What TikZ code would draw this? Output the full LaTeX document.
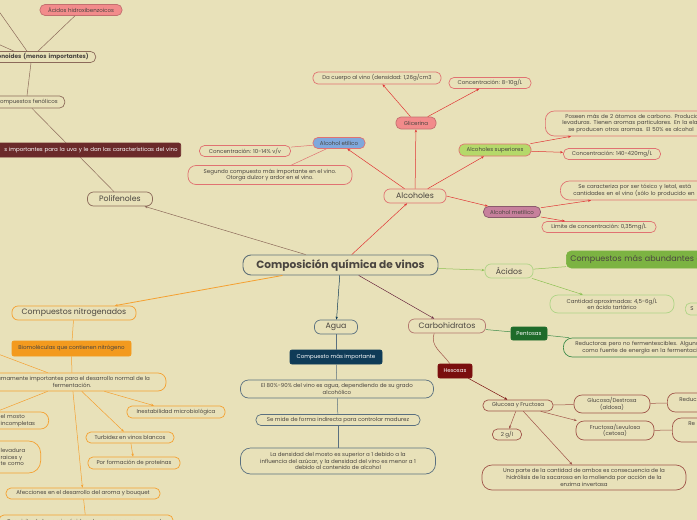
\documentclass[tikz,border=0pt]{standalone}
\usepackage{fontspec}
\setmainfont{Poppins}
\usetikzlibrary{arrows.meta}

\definecolor{fondo}{HTML}{E8E1B9}
\definecolor{tinta}{HTML}{4A4540}
\definecolor{central}{HTML}{5F7078}
\definecolor{rojo}{HTML}{E03535}
\definecolor{rosa}{HTML}{E07272}
\definecolor{rosafill}{HTML}{F28B8B}
\definecolor{azul}{HTML}{7FA8DC}
\definecolor{verdeclaro}{HTML}{B5D96A}
\definecolor{malva}{HTML}{C7809C}
\definecolor{cafe}{HTML}{8C6A5A}
\definecolor{vino}{HTML}{6B2A2A}
\definecolor{verde}{HTML}{8CC152}
\definecolor{verdefill}{HTML}{7CB342}
\definecolor{marino}{HTML}{0F3B57}
\definecolor{gris}{HTML}{5A7080}
\definecolor{granate}{HTML}{6B2A40}
\definecolor{pino}{HTML}{1E6B2A}
\definecolor{pinoline}{HTML}{3D8B4A}
\definecolor{hexo}{HTML}{7A0E0E}
\definecolor{ladrillo}{HTML}{A0554A}
\definecolor{naranja}{HTML}{F5A030}
\definecolor{naranjafill}{HTML}{F39A1E}

\tikzset{
    caja/.style={draw, rounded corners=5pt, inner sep=1pt, align=center, line width=0.7pt,
        text=tinta, font=\fontsize{5.5}{6.8}\selectfont},
    tema/.style={caja, rounded corners=6pt, font=\fontsize{7.8}{9}\selectfont},
    rosacaja/.style={caja, draw=rosa},
    relleno/.style={caja, draw=#1!80!black, fill=#1},
    oscuro/.style={caja, draw=#1, fill=#1, text=white, rounded corners=2pt},
    corte/.style={caja, anchor=west, align=left, text width=#1},
    flecha/.style={-{Stealth[length=3pt,width=2.4pt]}, line width=0.5pt},
    linea/.style={line width=0.5pt}
}

\begin{document}
\begin{tikzpicture}[x=1pt, y=-1pt]
    \useasboundingbox (0,0) rectangle (697,520);
    \clip (0,0) rectangle (697,520);
    \fill[fondo] (0,0) rectangle (697,520);

    \path node[caja, draw=central, line width=0.9pt, rounded corners=8pt, minimum width=195, minimum height=20,
            font=\fontsize{10.6}{12}\selectfont\bfseries] (vinos) at (340.5,265) {Composición química de vinos}
        % alcoholes
        node[tema, draw=rosa, minimum width=62, minimum height=14] (alcoholes) at (415,196) {Alcoholes}
        node[relleno=rosafill, minimum width=40, minimum height=12] (glicerina) at (416,123) {Glicerina}
        node[rosacaja, minimum width=128, minimum height=12] (cuerpo) at (377,78) {Da cuerpo al vino (densidad: 1,26g/cm3}
        node[rosacaja, minimum width=82, minimum height=11] (conc810) at (490,83) {Concentración: 8-10g/L}
        node[caja, draw=rosa, fill=azul, minimum width=52, minimum height=11] (etilico) at (339,143) {Alcohol etílico}
        node[rosacaja, minimum width=91, minimum height=11] (conc1014) at (245,151) {Concentración: 10-14\% v/v}
        node[rosacaja, rounded corners=8pt, minimum width=164, minimum height=19] (segundo) at (270,175)
            {Segundo compuesto más importante en el vino.\\Otorga dulzor y ardor en el vino.}
        node[caja, draw=rosa, fill=verdeclaro, minimum width=72, minimum height=12] (superiores) at (495,150) {Alcoholes superiores}
        node[rosacaja, corte=220pt, rounded corners=9pt, minimum height=25] (poseen) at (545,123.5)
            {\hspace*{19pt}Poseen más de 2 átomos de carbono. Producidos\\\hspace*{16pt}levaduras. Tienen aromas particulares. En la elaboración\\\hspace*{22pt}se producen otros aromas. El 50\% es alcohol}
        node[rosacaja, minimum width=97, minimum height=11] (conc140) at (612,154) {Concentración: 140-420mg/L}
        node[caja, draw=malva!70!black, fill=malva, minimum width=57, minimum height=11] (metilico) at (512,212) {Alcohol metílico}
        node[rosacaja, corte=200pt, rounded corners=9pt, minimum height=19] (toxico) at (560,190.5)
            {\hspace*{17pt}Se caracteriza por ser tóxico y letal, está\\\hspace*{12pt}cantidades en el vino (sólo lo producido en}
        node[rosacaja, minimum width=114, minimum height=11] (limite) at (599,227) {Límite de concentración: 0,35mg/L}
        % polifenoles
        node[tema, draw=cafe, minimum width=65, minimum height=14] (polifenoles) at (120,199) {Polifenoles}
        node[caja, draw=cafe, anchor=east, text width=100pt, align=right, inner xsep=7pt, minimum height=12]
            (fenolicos) at (65,102) {ompuestos fenólicos}
        node[caja, draw=cafe, anchor=east, text width=120pt, align=right, inner xsep=7pt, minimum height=11,
            font=\fontsize{5.8}{6.8}\selectfont\bfseries] (noides) at (96,57) {onoides (menos importantes)}
        node[relleno=rosafill, minimum width=82, minimum height=11] (hidroxi) at (81,10) {Ácidos hidroxibenzoicos}
        % acidos
        node[tema, draw=verde!70, minimum width=48, minimum height=14] (acidos) at (509,271) {Ácidos}
        node[caja, draw=verdefill, fill=verdefill, rounded corners=2pt, corte=180pt, inner xsep=4pt, minimum height=17,
            font=\fontsize{8}{9}\selectfont] (abundantes) at (566,259.5) {Compuestos más abundantes de}
        node[caja, draw=verde!70, rounded corners=8pt, minimum width=124, minimum height=18] (cantidad) at (612,304)
            {Cantidad aproximadas: 4,5-6g/L\\en ácido tartárico}
        node[caja, draw=verde!70, corte=30pt, minimum height=12] (sbox) at (685,309) {\hspace*{4pt}S}
        % agua
        node[tema, draw=gris, minimum width=43, minimum height=14] (agua) at (336,327) {Agua}
        node[oscuro=marino, minimum width=92, minimum height=14] (importante) at (336,357) {Compuesto más importante}
        node[caja, draw=gris, rounded corners=8pt, minimum width=193, minimum height=18] (ochenta) at (337,389)
            {El 80\%-90\% del vino es agua, dependiendo de su grado\\alcohólico}
        node[caja, draw=gris, minimum width=164, minimum height=11] (mide) at (338,420) {Se mide de forma indirecta para controlar madurez}
        node[caja, draw=gris, rounded corners=10pt, minimum width=195, minimum height=26] (densidad) at (338,461)
            {La densidad del mosto es superior a 1 debido a la\\influencia del azúcar, y la densidad del vino es menor a 1\\debido al contenido de alcohol}
        % carbohidratos
        node[tema, draw=ladrillo!80, minimum width=77, minimum height=14] (carbo) at (447,326) {Carbohidratos}
        node[oscuro=pino, minimum width=36, minimum height=13] (pentosas) at (529,333.5) {Pentosas}
        node[caja, draw=pinoline, corte=200pt, rounded corners=9pt, minimum height=19] (reductoras) at (563,347.5)
            {\hspace*{11pt}Reductoras pero no fermentescibles. Algunas\\\hspace*{18pt}como fuente de energía en la fermentación}
        node[oscuro=hexo, minimum width=34, minimum height=14] (hexosas) at (455,371) {Hexosas}
        node[caja, draw=ladrillo, minimum width=70, minimum height=11] (gyf) at (518,405.5) {Glucosa y Fructosa}
        node[caja, draw=ladrillo, rounded corners=8pt, minimum width=76, minimum height=18] (dextrosa) at (612,404)
            {Glucosa/Dextrosa\\(aldosa)}
        node[caja, draw=ladrillo, corte=60pt, rounded corners=8pt, minimum height=19] (reduc) at (667,402.5)
            {\hspace*{11pt}Reduc\\\mbox{}}
        node[caja, draw=ladrillo, rounded corners=8pt, minimum width=78, minimum height=19] (levulosa) at (615,430.5)
            {Fructosa/Levulosa\\(cetosa)}
        node[caja, draw=ladrillo, corte=60pt, rounded corners=9pt, minimum height=24] (re) at (672,430)
            {\hspace*{15pt}Re\\\mbox{}\\\mbox{}}
        node[caja, draw=ladrillo, minimum width=29, minimum height=11] (dosg) at (507,434.5) {2 g/l}
        node[caja, draw=ladrillo, rounded corners=10pt, minimum width=204, minimum height=25] (unaparte) at (584,477.5)
            {Una parte de la cantidad de ambos es consecuencia de la\\hidrólisis de la sacarosa en la molienda por acción de la\\enzima invertasa}
        % nitrogenados
        node[tema, draw=naranja, minimum width=124, minimum height=14] (nitrogenados) at (74,313) {Compuestos nitrogenados}
        node[caja, draw=naranjafill, fill=naranjafill, rounded corners=2pt, minimum width=119, minimum height=15]
            (biomol) at (71.5,348.5) {Biomoléculas que contienen nitrógeno}
        node[caja, draw=naranja, rounded corners=8pt, minimum width=188, minimum height=18] (sumamente) at (72,382)
            {Sumamente importantes para el desarrollo normal de la\\fermentación.}
        node[caja, draw=naranja, rounded corners=8pt, anchor=east, text width=36pt, align=left, inner xsep=12pt,
            minimum height=17] (mosto) at (49,420.5) {el mosto\\incompletas}
        node[caja, draw=naranja, rounded corners=12pt, anchor=east, text width=28pt, align=left, inner xsep=12pt,
            minimum height=32] (levadura) at (41,457) {levadura\\raices y\\te como}
        node[caja, draw=naranja, minimum width=98, minimum height=12] (inestabilidad) at (176,412) {Inestabilidad microbiológica}
        node[caja, draw=naranja, minimum width=88, minimum height=11] (turbidez) at (130,437.5) {Turbidez en vinos blancos}
        node[caja, draw=naranja, minimum width=92, minimum height=12] (proteinas) at (134,463) {Por formación de proteínas}
        node[caja, draw=naranja, minimum width=154, minimum height=11] (afecciones) at (83,493.5) {Afecciones en el desarrollo del aroma y bouquet}
        node[caja, draw=naranja, minimum width=174, minimum height=14] (requisito) at (86,522)
            {Requisito de los aminoácidos clave como precursores de};

    \coordinate (fueraA) at (-2,10);
    \coordinate (fueraB) at (-2,44);
    \coordinate (fueraC) at (-2,354);
    \coordinate (fueraD) at (-2,411);

    \draw[flecha, rojo] (vinos) -- (alcoholes);
    \draw[flecha, rojo] (alcoholes) -- (glicerina);
    \draw[flecha, rojo] (alcoholes) -- (etilico);
    \draw[flecha, rojo] (alcoholes) -- (superiores);
    \draw[flecha, rojo] (alcoholes.east) -- (metilico);
    \draw[flecha, rojo] (glicerina) -- (cuerpo);
    \draw[flecha, rojo] (glicerina) -- (conc810);
    \draw[linea, rosa] (etilico) -- (conc1014);
    \draw[linea, rosa] (etilico) -- (segundo);
    \draw[flecha, rojo] (superiores) -- (poseen.south west -| 571,0);
    \draw[flecha, rojo] (superiores) -- (conc140);
    \draw[flecha, rojo] (metilico) -- (toxico.south west -| 591,0);
    \draw[flecha, rojo] (metilico) -- (limite);

    \draw[flecha, cafe] (vinos) -- (polifenoles);
    \draw[linea, cafe] ([xshift=-38pt]fenolicos.north east) -- ([xshift=-65pt]noides.south east);
    \draw[linea, cafe] ([xshift=-58pt]noides.north east) -- (hidroxi);
    \draw[linea, cafe] ([xshift=-69pt]noides.north east) -- (fueraA);
    \draw[linea, cafe] ([xshift=-82pt]noides.north east) -- (fueraB);

    \draw[flecha, verde] (vinos) -- (acidos);
    \draw[linea, verde] (acidos) -- (abundantes);
    \draw[flecha, verde] (acidos) -- (cantidad);

    \draw[flecha, marino] (vinos) -- (agua);
    \draw[linea, gris] (agua) -- (importante);
    \draw[linea, gris] (importante) -- (ochenta);
    \draw[linea, gris] (ochenta) -- (mide);
    \draw[linea, gris] (mide) -- (densidad);

    \draw[flecha, granate] (vinos) -- (carbo);
    \draw[linea, pinoline] (carbo) -- (pentosas);
    \draw[linea, pinoline] (pentosas) -- (reductoras);
    \draw[linea, ladrillo] ([xshift=26pt]carbo.south west) to[out=-110, in=125] (hexosas);
    \draw[flecha, hexo] (hexosas) -- (gyf);
    \draw[linea, ladrillo] (gyf) -- (dextrosa);
    \draw[flecha, ladrillo] (gyf) -- (levulosa);
    \draw[linea, ladrillo] (dextrosa) -- (reduc);
    \draw[linea, ladrillo] (levulosa) -- (re);
    \draw[flecha, ladrillo] (gyf) -- (dosg);
    \draw[flecha, ladrillo] (gyf) -- (unaparte);

    \draw[flecha, naranja, line width=0.8pt] (vinos) -- (nitrogenados);
    \draw[linea, naranja] (nitrogenados) -- (biomol);
    \draw[linea, naranja] (biomol) -- (sumamente);
    \draw[linea, naranja] ([xshift=70pt]sumamente.south west) -- (fueraD);
    \draw[linea, naranja] ([xshift=70pt]sumamente.north west) -- (fueraC);
    \draw[flecha, naranja] (sumamente) -- (inestabilidad);
    \draw[flecha, naranja] (sumamente) -- (turbidez);
    \draw[flecha, naranja] (turbidez) -- (proteinas);
    \draw[flecha, naranja] (sumamente) -- (afecciones);
    \draw[linea, naranja] (afecciones) -- (requisito);

    \draw[linea, cafe] ([xshift=-6pt]polifenoles.north) -- ([xshift=-33pt]fenolicos.south east);
    \path node[caja, draw=vino, fill=vino, text=white, rounded corners=2pt, anchor=east, text width=220pt, align=right,
            inner xsep=3pt, minimum height=14] (uva) at (181,150) {s importantes para la uva y le dan las características del vino};
\end{tikzpicture}
\end{document}
